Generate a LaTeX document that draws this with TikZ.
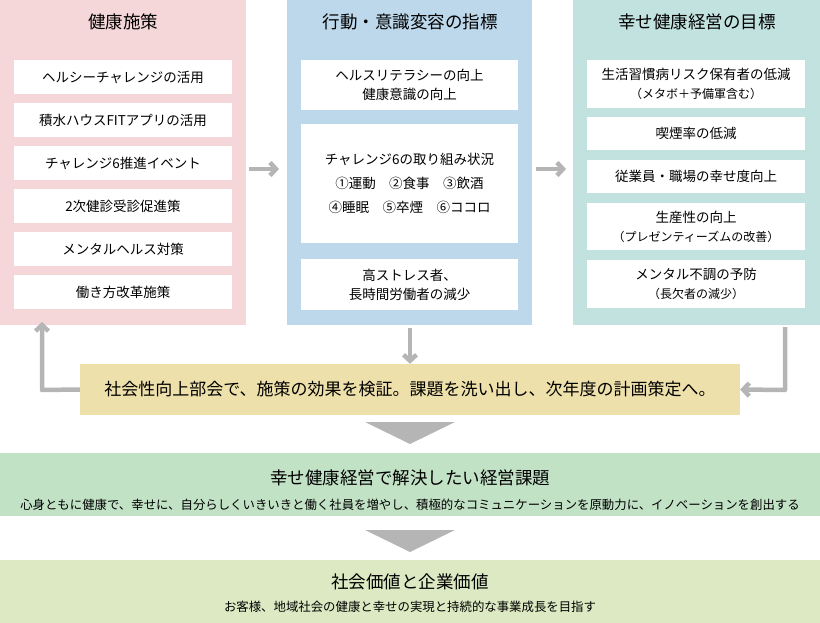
\documentclass[tikz,border=0pt]{standalone}
\usepackage{fontspec}
\setmainfont{Noto Sans CJK JP}
\usetikzlibrary{arrows.meta}
\definecolor{cpink}{HTML}{F5D6D9}
\definecolor{cblue}{HTML}{BDD8EB}
\definecolor{cteal}{HTML}{C2E2DF}
\definecolor{cyel}{HTML}{EEE0AA}
\definecolor{cgreen}{HTML}{C2E2C6}
\definecolor{clgreen}{HTML}{DCE9C2}
\definecolor{cgray}{HTML}{B5B5B5}
\tikzset{x=1pt,y=-1pt,
 wbox/.style={fill=white,draw=none,align=center,font=\fontsize{13.5}{19}\selectfont,inner sep=0},
 head/.style={font=\fontsize{17.5}{20}\selectfont},
 garrow/.style={draw=cgray,line width=4.5pt,-{Straight Barb[length=6pt,width=13pt,line width=4.5pt]}},
 loop/.style={draw=cgray,line width=4.5pt,line join=round,-{Straight Barb[length=6pt,width=13pt,line width=4.5pt]}},
 tri/.style={fill=cgray,draw=none}}
\newcommand{\wb}[6]{\node[wbox,minimum width=#3-#2,minimum height=#5-#4] (#1) at ({(#2+#3)/2},{(#4+#5)/2}) {#6};}
\begin{document}
\begin{tikzpicture}
\useasboundingbox (0,0) rectangle (820,623);
\fill[cpink] (0,0) rectangle (246,325);
\fill[cblue] (287,0) rectangle (532,325);
\fill[cteal] (573,0) rectangle (820,325);
\node[head] (h1) at (123,22) {健康施策};
\node[head] (h2) at (410,22) {行動・意識変容の指標};
\node[head] (h3) at (697,22) {幸せ健康経営の目標};
\wb{a1}{14}{232}{60}{94}{ヘルシーチャレンジの活用}
\wb{a2}{14}{232}{103}{137}{積水ハウスFITアプリの活用}
\wb{a3}{14}{232}{146}{180}{チャレンジ6推進イベント}
\wb{a4}{14}{232}{189}{223}{2次健診受診促進策}
\wb{a5}{14}{232}{232}{266}{メンタルヘルス対策}
\wb{a6}{14}{232}{275}{309}{働き方改革施策}
\wb{b1}{301}{518}{60}{110}{ヘルスリテラシーの向上\\健康意識の向上}
\wb{b2}{301}{518}{124}{243}{チャレンジ6の取り組み状況\\[5pt]①運動\quad ②食事\quad ③飲酒\\[5pt]④睡眠\quad ⑤卒煙\quad ⑥ココロ}
\wb{b3}{301}{518}{259}{310}{高ストレス者、\\長時間労働者の減少}
\wb{c1}{587}{805}{60}{108}{生活習慣病リスク保有者の低減\\{\fontsize{12}{17}\selectfont （メタボ＋予備軍含む）}}
\wb{c2}{587}{805}{117}{150}{喫煙率の低減}
\wb{c3}{587}{805}{160}{193}{従業員・職場の幸せ度向上}
\wb{c4}{587}{805}{203}{250}{生産性の向上\\{\fontsize{12}{17}\selectfont （プレゼンティーズムの改善）}}
\wb{c5}{587}{805}{260}{308}{メンタル不調の予防\\{\fontsize{12}{17}\selectfont （長欠者の減少）}}
\coordinate (l1) at (249,169); \coordinate (l2) at (279,169);
\draw[garrow] (l1) -- (l2);
\coordinate (r1) at (536,169); \coordinate (r2) at (566,169);
\draw[garrow] (r1) -- (r2);
\node[fill=cyel,minimum width=660,minimum height=51,inner sep=0,font=\fontsize{17}{20}\selectfont] (y) at (410,389.5) {社会性向上部会で、施策の効果を検証。課題を洗い出し、次年度の計画策定へ。};
\coordinate (d1) at (410,328);
\draw[garrow] (d1) -- (y.north);
\coordinate (p1) at (42,390); \coordinate (p2) at (42,322);
\draw[loop] (y.west) -- (p1) -- (p2);
\coordinate (q1) at (785,327); \coordinate (q2) at (785,390);
\draw[loop] (q1) -- (q2) -- (y.east);
\fill[tri] (365,422) -- (455,422) -- (410,444) -- cycle;
\fill[cgreen] (0,453) rectangle (820,516);
\node[font=\fontsize{17.5}{20}\selectfont] (g1) at (410,478) {幸せ健康経営で解決したい経営課題};
\node[font=\fontsize{12.4}{14}\selectfont] (g2) at (410,505) {心身ともに健康で、幸せに、自分らしくいきいきと働く社員を増やし、積極的なコミュニケーションを原動力に、イノベーションを創出する};
\fill[tri] (365,530) -- (455,530) -- (410,552) -- cycle;
\fill[clgreen] (0,560) rectangle (820,623);
\node[font=\fontsize{17.5}{20}\selectfont] (k1) at (410,582) {社会価値と企業価値};
\node[font=\fontsize{12.4}{14}\selectfont] (k2) at (410,607) {お客様、地域社会の健康と幸せの実現と持続的な事業成長を目指す};
\end{tikzpicture}
\end{document}
